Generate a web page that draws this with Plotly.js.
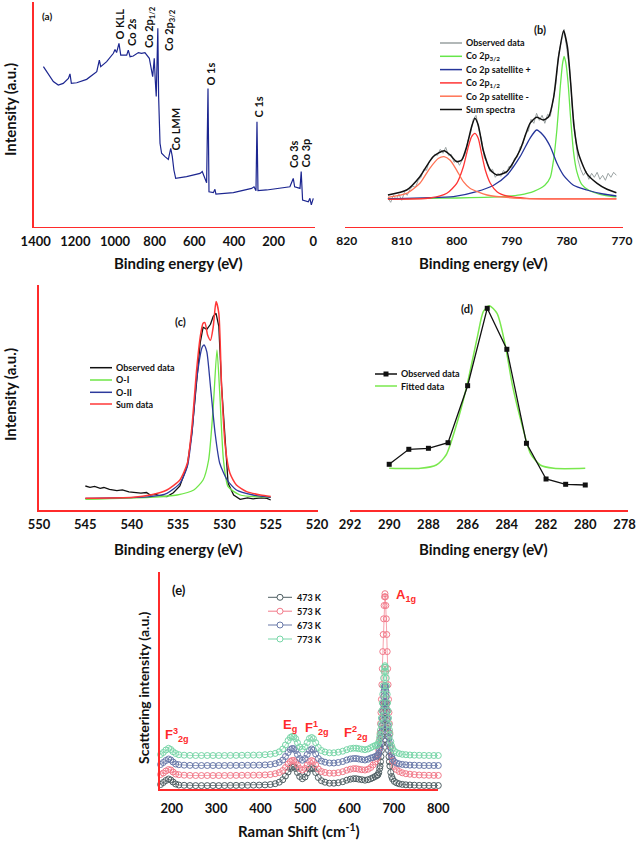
<!DOCTYPE html>
<html><head><meta charset="utf-8">
<script src="https://cdn.plot.ly/plotly-3.0.1.min.js"></script>
<style>html,body{margin:0;padding:0;background:#fff}#chart{width:639px;height:842px}</style>
</head><body><div id="chart"></div>
<script>
// ---------- (a) XPS survey ----------
const surveyEnergy = [1361,1345,1311,1286,1261,1235,1227,1220,1193,1143,1092,1079,1072,1042,1008,1000,992,980,971,941,933,924,908,882,866,849,837,827,810,802,797,792,784,780,773,765,748,731,719,711,703,694,639,571,560,546,538,531,526,504,496,491,403,311,299,289,284,279,235,118,108,101,94,67,61,54,25,17,10,0];
const surveyIntensity = [70.6,68.4,64.0,62.5,63.2,65.4,67.4,63.2,63.5,65.0,68.4,73.5,70.6,72.8,76.5,78.2,76.8,80.9,75.7,75.7,77.9,75.0,75.3,76.8,76.5,76.8,75.3,74.3,66.2,74.3,64.7,57.4,87.5,57.4,36.8,32.4,30.9,29.7,34.6,30.9,25.0,21.3,22.1,23.5,24.3,20.6,19.4,61.0,15.4,15.0,16.5,14.4,15.0,16.9,17.6,15.9,46.3,15.9,16.2,17.6,19.9,21.3,17.6,16.9,24.3,11.8,11.0,12.5,9.6,12.5];
const surveyPeakLabels = ["O KLL","Co 2s","Co 2p<sub>1/2</sub>","Co 2p<sub>3/2</sub>","Co LMM","O 1s","C 1s","Co 3s","Co 3p"];

// ---------- (b) Co 2p ----------
const coObsEnergy = [812.5,812,811.5,811,810.5,810,809.5,809,808.5,808,807.5,807,806.5,806,805.5,805,804.5,804,803.5,803,802.5,802,801.5,801,800.5,800,799.5,799,798.5,798,797.5,797,796.5,796,795.5,795,794.5,794,793.5,793,792.5,792,791.5,791,790.5,790,789.5,789,788.5,788,787.5,787,786.5,786,785.5,785,784.5,784,783.5,783,782.5,782,781.5,781,780.5,780,779.5,779,778.5,778,777.5,777,776.5,776,775.5,775,774.5,774,773.5,773,772.5,772,771.5,771];
const coObsIntensity = [1,-3,4,0,5,-1,7,4,10,13,12,19,22,30,29,38,40,45,44,50,46,52,44,45,37,39,34,40,45,58,66,80,84,70,60,42,37,28,30,22,26,23,29,26,33,32,41,42,52,55,66,68,80,76,86,79,84,76,85,83,100,115,145,158,170,150,130,92,62,40,30,24,28,20,26,22,27,20,24,19,26,22,27,24];
const co2p32Energy = [812.5,805,800,795,791,788.5,786,784,783,782.4,781.8,781.2,780.8,780.5,780.2,779.8,779.3,778.8,778.2,777.3,776,774,772,771];
const co2p32Intensity = [0.5,1,1.3,2,3,4.5,8,14,22,40,70,112,135,143,137,118,80,48,28,15,9,5,3,2.5];
const satPlusEnergy = [812.5,806,800.6,796.4,793.3,790.9,788.5,786.7,785.5,784.3,783,781.8,780.6,778.8,776.4,773.4,771];
const satPlusIntensity = [0.5,1.5,2.6,7.6,14,24,42.6,61,69.3,64,52.6,36,24,14,9.3,5.3,3.3];
const co2p12Energy = [812.5,804.9,801.8,800,798.8,797.9,797.3,796.7,796.1,795.5,794.8,793.9,792.7,790.9,787.3,771];
const co2p12Intensity = [0,1.3,6,16,32.6,52.6,62.6,66,61,46,29,16,7.6,3.3,1,0.5];
const satMinusEnergy = [812.5,809.1,806.7,804.9,803.3,802.3,801.2,800,798.8,797.6,794.5,788.5,771];
const satMinusIntensity = [2,6,16,31,41,42.6,39,29,17.6,11,4.3,1,0.5];
const coSumEnergy = [812.5,809.1,806.7,804.3,802.3,801.2,800,799.1,798.2,797.3,796.7,796.1,795.2,793.9,792.7,790.9,788.5,786.7,785.5,784.3,783.3,782.4,781.5,780.6,779.9,779.3,778.7,777.9,776.4,774.5,772.7,771];
const coSumIntensity = [4.3,9.3,22.6,42.6,48.6,44.3,37.6,39.3,52.6,72.6,81,74.3,49.3,29.3,24.3,27.6,49.3,76,82,79.3,82.6,102,142.6,168.6,152.6,116,72.6,46,26,16,10,6.6];
const coLegend = ["Observed data","Co 2p<sub>3/2</sub>","Co 2p satellite +","Co 2p<sub>1/2</sub>","Co 2p satellite -","Sum spectra"];

// ---------- (c) O 1s ----------
const oObsEnergy = [545.0,544.5,544.0,543.4,543.0,542.4,541.6,541.0,540.3,539.8,539.0,538.4,538.0,537.4,536.9,536.2,535.5,534.8,534.0,533.5,533.0,532.6,532.3,531.9,531.5,531.2,530.9,530.6,530.3,529.9,529.6,529.0,528.3,527.5,526.9,526.0,525.4,525.0];
const oObsIntensity = [12.3,11,12,10,10.8,9,7.6,8.4,6.5,6,5.2,5.8,3.3,4,2.3,1.7,5.6,12.3,32.6,66,116,156,171,169,174,182,185,172,112,51.6,15,3.3,-1,0.5,-0.5,0.5,0,-1.7];
const oIEnergy = [545,538.0,535.1,533.3,532.3,531.7,531.2,530.8,530.5,530.1,529.6,528.3,525.0];
const oIIntensity = [-1,1,3.3,8.3,18.3,38.3,91.7,148.3,105,38.3,11.7,3.3,1];
const oIIEnergy = [545,538.0,536.2,534.8,534.0,533.5,533.0,532.4,532.2,531.9,531.5,531.0,530.5,529.7,528.7,526.9,525.0];
const oIIIntensity = [0,1.7,5,15,31.7,65,118,151,153.3,146.7,111.7,65,35,18.3,8.3,3.3,1];
const oSumEnergy = [545,539.8,538.0,536.2,534.8,534.0,533.5,533.0,532.6,532.3,532.1,531.8,531.5,531.2,530.9,530.6,530.3,529.9,529.4,528.7,527.6,526.1,525.0];
const oSumIntensity = [0,1,3.3,8.3,18.3,35,71.7,128,161.7,175,175.7,163,158,171.7,196.7,185,111.7,51.7,25,13.3,6.7,3.3,1.7];
const oLegend = ["Observed data","O-I","O-II","Sum data"];

// ---------- (d) C 1s ----------
const cObsEnergy = [290,289,288,287,286,285,284,283,282,281,280];
const cObsIntensity = [45.7,60.7,61.7,67.3,124.3,201.7,160.7,66.7,31,25.7,25];
const cFitEnergy = [290,288.4,287.6,287.1,286.6,286.05,285.5,285.2,284.9,284.5,284.1,283.7,283.2,282.8,282.3,281.6,280];
const cFitIntensity = [41.7,41.7,45,55,83.3,123.3,173.3,198.3,204.3,196.7,166.7,123.3,83.3,56.7,45,41.7,41.7];
const cLegend = ["Observed data","Fitted data"];

// ---------- (e) Raman ----------
const ramanShift = [175,181,187,193,198,203,209,216,228,241,
  254,267,280,293,306,319,332,345,358,371,
  384,397,410,422,433,442,450,456,462,467,
  471,475,479,483,488,494,500,505,510,515,
  519,524,530,537,545,555,565,575,585,594,
  602,609,615,621,628,635,642,648,653,658,
  662,664,666,668,669,670,671,672,673,674,
  675,676,677,678,679,680,681,682,683,684,
  685,686,687,688,689,690,691,693,695,697,
  701,706,712,719,727,736,746,757,768,779,
  790,800];
const raman473 = [4.5,6.5,8.5,10,9,7,5,4,3.7,3.5,
  3.4,3.4,3.4,3.5,3.4,3.5,3.6,3.6,3.6,3.7,
  3.8,3.9,4.1,4.5,5.3,6.8,9.3,13,17,20.5,
  22,22.3,20.5,16.5,12.5,10.3,12,16,20,21.3,
  20.3,16.5,11.5,8.3,6.8,5.8,5.8,6.3,7.3,8.8,
  9.8,10.3,10.3,9.8,9.3,8.8,9.3,10.3,11.3,12.5,
  13.5,14.2,16.3,20.4,23,27.3,32.4,38.5,45.3,52.7,
  60.6,68.5,75.7,81.8,85.9,87.3,85.9,81.8,75.7,68.5,
  60.6,52.7,45.3,38.5,32.4,27.3,23,16.6,12.5,10.1,
  7.6,6.2,5.2,4.6,4.2,4,3.8,3.6,3.6,3.5,
  3.5,3.5];
const raman573 = [14.5,16,18,19.5,19,17,15,14.3,13.8,13.6,
  13.5,13.5,13.5,13.5,13.5,13.5,13.6,13.6,13.7,13.7,
  13.8,13.9,14.1,14.5,15.3,16.5,18.5,21.5,25,27.5,
  28.5,28.5,27,24,20.5,19,20.5,24,27.5,28.5,
  27.5,24,20,17.5,16.5,15.8,15.8,16.3,17.3,18.8,
  19.8,20.3,20.3,19.8,19.3,19,19.8,21.5,24,27,
  30.2,33.4,39.1,49.2,55.9,65.4,76.5,89.6,104.3,120.3,
  137.4,154.5,170.2,183.5,192.2,195.3,192.2,183.5,170.2,154.5,
  137.4,120.3,104.3,89.6,76.5,65.4,55.9,42.1,33.3,28,
  22.6,19.5,17.5,16.2,15.3,14.8,14.4,14,13.8,13.7,
  13.6,13.6];
const raman673 = [24.5,26.5,28.5,30,29,27,25,24.3,23.8,23.6,
  23.5,23.5,23.5,23.5,23.5,23.5,23.6,23.6,23.7,23.7,
  23.8,23.9,24.1,24.5,25.3,26.7,29,32.5,36.5,39.5,
  40.5,40.3,38.5,34.5,30.5,28.8,30.5,34.5,38.5,40,
  39,35,30.5,28,26.8,26,26,26.5,27.5,29,
  30,30.5,30.5,30,29.5,29,29.8,31,31.5,32.5,
  33,33.8,35.8,39.7,42,46.2,51.1,56.8,63.3,70.3,
  77.9,85.4,92.3,98.1,101.9,103.3,101.9,98.1,92.3,85.4,
  77.9,70.3,63.3,56.8,51.1,46.2,42,35.9,32.1,29.8,
  27.4,26,25.1,24.6,24.2,23.9,23.8,23.6,23.5,23.5,
  23.5,23.5];
const raman773 = [34.5,36.5,39,40.7,39.5,37.3,35.5,34.3,33.8,33.6,
  33.5,33.5,33.5,33.5,33.5,33.5,33.6,33.6,33.7,33.8,
  33.9,34,34.3,34.8,35.6,37.2,40,44,48.5,51.5,
  52.5,52.3,50.3,46.3,42,40,42.3,46.5,50.5,51.5,
  50.3,46.3,41.5,38.5,37,36.2,36.2,36.8,37.8,39.3,
  40.3,40.8,40.8,40.3,39.8,39.3,40,41.3,42.5,43.5,
  43.7,44.8,47.1,51.6,54.4,59,64.5,71,78.3,86.2,
  94.7,103.1,110.9,117.5,121.8,123.3,121.8,117.5,110.9,103.1,
  94.7,86.2,78.3,71,64.5,59,54.4,47.5,43.2,40.6,
  37.9,36.4,35.4,34.7,34.3,34,33.8,33.7,33.6,33.5,
  33.5,33.5];
const ramanLegend = ["473 K","573 K","673 K","773 K"];
const ramanModes = ["F<sup>3</sup><sub>2g</sub>","E<sub>g</sub>","F<sup>1</sup><sub>2g</sub>","F<sup>2</sup><sub>2g</sub>","A<sub>1g</sub>"];

// ---------- helpers ----------
const W = 639, H = 842;
const px = x => x / W, py = y => 1 - y / H;
const FONT = 'Lato, "Open Sans", sans-serif';
const RED_AXIS = '#ff2b2b';

const traces = [];
// (a)
traces.push({x: surveyEnergy, y: surveyIntensity, xaxis:'x', yaxis:'y', mode:'lines', line:{color:'#1c2690', width:1.2}});
// (b)
const bCols = ['#99a1a1','#66e64a','#25359a','#ff3535','#ff7355','#111111'];
traces.push({x: coObsEnergy, y: coObsIntensity, xaxis:'x2', yaxis:'y2', mode:'lines', line:{color:bCols[0], width:1}});
traces.push({x: co2p32Energy, y: co2p32Intensity, xaxis:'x2', yaxis:'y2', mode:'lines', line:{color:bCols[1], width:1.3, shape:'spline', smoothing:0.6}});
traces.push({x: satPlusEnergy, y: satPlusIntensity, xaxis:'x2', yaxis:'y2', mode:'lines', line:{color:bCols[2], width:1.3, shape:'spline', smoothing:0.6}});
traces.push({x: co2p12Energy, y: co2p12Intensity, xaxis:'x2', yaxis:'y2', mode:'lines', line:{color:bCols[3], width:1.3, shape:'spline', smoothing:0.6}});
traces.push({x: satMinusEnergy, y: satMinusIntensity, xaxis:'x2', yaxis:'y2', mode:'lines', line:{color:bCols[4], width:1.3, shape:'spline', smoothing:0.6}});
traces.push({x: coSumEnergy, y: coSumIntensity, xaxis:'x2', yaxis:'y2', mode:'lines', line:{color:bCols[5], width:1.5, shape:'spline', smoothing:0.6}});
// (c)
const cCols = ['#111111','#6ee646','#2c3a9c','#ff3838'];
traces.push({x: oObsEnergy, y: oObsIntensity, xaxis:'x3', yaxis:'y3', mode:'lines', line:{color:cCols[0], width:1.3}});
traces.push({x: oIEnergy, y: oIIntensity, xaxis:'x3', yaxis:'y3', mode:'lines', line:{color:cCols[1], width:1.3, shape:'spline', smoothing:0.6}});
traces.push({x: oIIEnergy, y: oIIIntensity, xaxis:'x3', yaxis:'y3', mode:'lines', line:{color:cCols[2], width:1.3, shape:'spline', smoothing:0.6}});
traces.push({x: oSumEnergy, y: oSumIntensity, xaxis:'x3', yaxis:'y3', mode:'lines', line:{color:cCols[3], width:1.5, shape:'spline', smoothing:0.6}});
// (d)
const dCols = ['#111111','#7ae84e'];
traces.push({x: cFitEnergy, y: cFitIntensity, xaxis:'x4', yaxis:'y4', mode:'lines', line:{color:dCols[1], width:1.5, shape:'spline', smoothing:0.7}});
traces.push({x: cObsEnergy, y: cObsIntensity, xaxis:'x4', yaxis:'y4', mode:'lines+markers', line:{color:dCols[0], width:1.3}, marker:{symbol:'square', size:5, color:dCols[0]}});
// (e)
const eCols = ['#4f5f63','#f27a8a','#6878a8','#78d6a8'];
const eSeries = [raman473, raman573, raman673, raman773];
eSeries.forEach((s, i) => {
  traces.push({x: ramanShift, y: s, xaxis:'x5', yaxis:'y5', mode:'lines+markers', cliponaxis:false,
    line:{color:eCols[i], width:0.7}, marker:{symbol:'circle-open', size:6, color:eCols[i], line:{width:1, color:eCols[i]}}});
});

const tickFont = {family: FONT, size: 13, color:'#111', weight:'bold'};
function xax(dom, range, dtick, fs, standoff) {
  return {domain:[px(dom[0]), px(dom[1])], range: range, dtick: dtick, tick0: 0, showline:true, linecolor:RED_AXIS, linewidth:1.6,
    ticks:'', showgrid:false, zeroline:false, tickfont: Object.assign({}, tickFont, {size: fs || 13}), fixedrange:true, ticklabelstandoff: standoff || 2};
}
function yax(dom, range, line) {
  return {domain:[py(dom[1]), py(dom[0])], range: range, showline: line, linecolor:RED_AXIS, linewidth:1.6,
    ticks:'', showticklabels:false, showgrid:false, zeroline:false, fixedrange:true};
}

const layout = {
  width: W, height: H, margin:{l:0,r:0,t:0,b:0}, showlegend:false,
  paper_bgcolor:'#fff', plot_bgcolor:'rgba(0,0,0,0)', font:{family:FONT, size:12},
  xaxis: Object.assign(xax([33.5,315],[1411,-8.6],200), {anchor:'y'}),
  yaxis: Object.assign(yax([1.7,226.7],[0,99.25],true), {anchor:'x'}),
  xaxis2: Object.assign(xax([345,623],[820.3,769.8],10,12), {anchor:'y2'}),
  yaxis2: Object.assign(yax([0,226.7],[-27.4,199.3],false), {anchor:'x2'}),
  xaxis3: Object.assign(xax([39,318],[550,519.9],5), {anchor:'y3'}),
  yaxis3: Object.assign(yax([285,510],[-11.7,213.3],true), {anchor:'x3'}),
  xaxis4: Object.assign(xax([350,628],[292,277.82],2), {anchor:'y4'}),
  yaxis4: Object.assign(yax([280,510],[0,230],false), {anchor:'x4'}),
  xaxis5: Object.assign(xax([160,438.3],[173.7,800],100,13,7), {anchor:'y5'}),
  yaxis5: Object.assign(yax([571.7,789],[0,217.3],true), {anchor:'x5'}),
  annotations: [], shapes: []
};

function ann(text, x, y, o) {
  layout.annotations.push(Object.assign({text: text, x: px(x), y: py(y), xref:'paper', yref:'paper', showarrow:false,
    xanchor:'center', yanchor:'middle', font:{family:FONT, size:15, color:'#111', weight:'bold'}}, o || {}));
}
function legLine(x0, x1, y, color, w) {
  layout.shapes.push({type:'line', xref:'paper', yref:'paper', x0:px(x0), x1:px(x1), y0:py(y), y1:py(y), line:{color:color, width:w||1.5}});
}

// axis titles
ann('Intensity (a.u.)', 10, 110, {textangle:-90});
ann('Binding energy (eV)', 178, 263);
ann('Binding energy (eV)', 483, 263);
ann('Intensity (a.u.)', 10, 395, {textangle:-90});
ann('Binding energy (eV)', 178, 549);
ann('Binding energy (eV)', 483, 549);
ann('Scattering intensity (a.u.)', 143, 688, {textangle:-90, font:{family:FONT,size:14,color:'#111',weight:'bold'}});
ann('Raman Shift (cm<sup>-1</sup>)', 299, 830);

// panel letters
ann('(a)', 47, 16, {font:{family:FONT,size:10,color:'#111',weight:'bold'}});
ann('(b)', 540, 29, {font:{family:FONT,size:11,color:'#111',weight:'bold'}});
ann('(c)', 180, 322, {font:{family:FONT,size:11,color:'#111',weight:'bold'}});
ann('(d)', 467, 308, {font:{family:FONT,size:11,color:'#111',weight:'bold'}});
ann('(e)', 179, 590, {font:{family:FONT,size:13,color:'#111',weight:'bold'}});

// (a) peak labels (rotated)
const aLabPos = [[119,42],[132,48],[150,50],[170,53],[175,153],[210,88],[258,120],[293,170],[305,170]];
surveyPeakLabels.forEach((t, i) => ann(t, aLabPos[i][0], aLabPos[i][1], {textangle:-90, yanchor:'bottom', font:{family:FONT,size:11,color:'#111',weight:'bold'}}));

// (b) legend
const bRows = [43, 56.3, 69.6, 82.9, 96.2, 109.5];
coLegend.forEach((t, i) => {
  legLine(440, 462, bRows[i], bCols[i], 1.5);
  ann(t, 464, bRows[i], {xanchor:'left', font:{family:FONT,size:9,color:'#111',weight:'bold'}});
});
// (c) legend
const cRows = [367.7, 380, 392.3, 404];
oLegend.forEach((t, i) => {
  legLine(90, 112, cRows[i], cCols[i], 1.5);
  ann(t, 114, cRows[i], {xanchor:'left', font:{family:FONT,size:9,color:'#111',weight:'bold'}});
});
// (d) legend
const dRows = [374, 386];
cLegend.forEach((t, i) => {
  legLine(375, 397, dRows[i], dCols[i], 1.5);
  ann(t, 399, dRows[i], {xanchor:'left', font:{family:FONT,size:9,color:'#111',weight:'bold'}});
});
layout.shapes.push({type:'rect', xref:'paper', yref:'paper', x0:px(383.5), x1:px(388.5), y0:py(dRows[0]+2.5), y1:py(dRows[0]-2.5), fillcolor:'#111', line:{width:0}});
// (e) legend
const eRows = [597.3, 611.2, 625, 639];
ramanLegend.forEach((t, i) => {
  legLine(268, 292, eRows[i], eCols[i], 1);
  layout.shapes.push({type:'circle', xref:'paper', yref:'paper', x0:px(277), x1:px(283), y0:py(eRows[i]+3), y1:py(eRows[i]-3), fillcolor:'#fff', line:{color:eCols[i], width:1}});
  ann(t, 295, eRows[i], {xanchor:'left', font:{family:FONT,size:9,color:'#111',weight:'bold'}});
});
// (e) Raman mode labels
const modePos = [[177,735],[290,725],[317,728],[356,733],[406,595]];
ramanModes.forEach((t, i) => ann(t, modePos[i][0], modePos[i][1], {font:{family:'Liberation Sans, Arial, sans-serif', size:13, color:'#ff2b2b', weight:'bold'}}));

Plotly.newPlot('chart', traces, layout, {staticPlot:true, displayModeBar:false});
</script>
</body></html>
